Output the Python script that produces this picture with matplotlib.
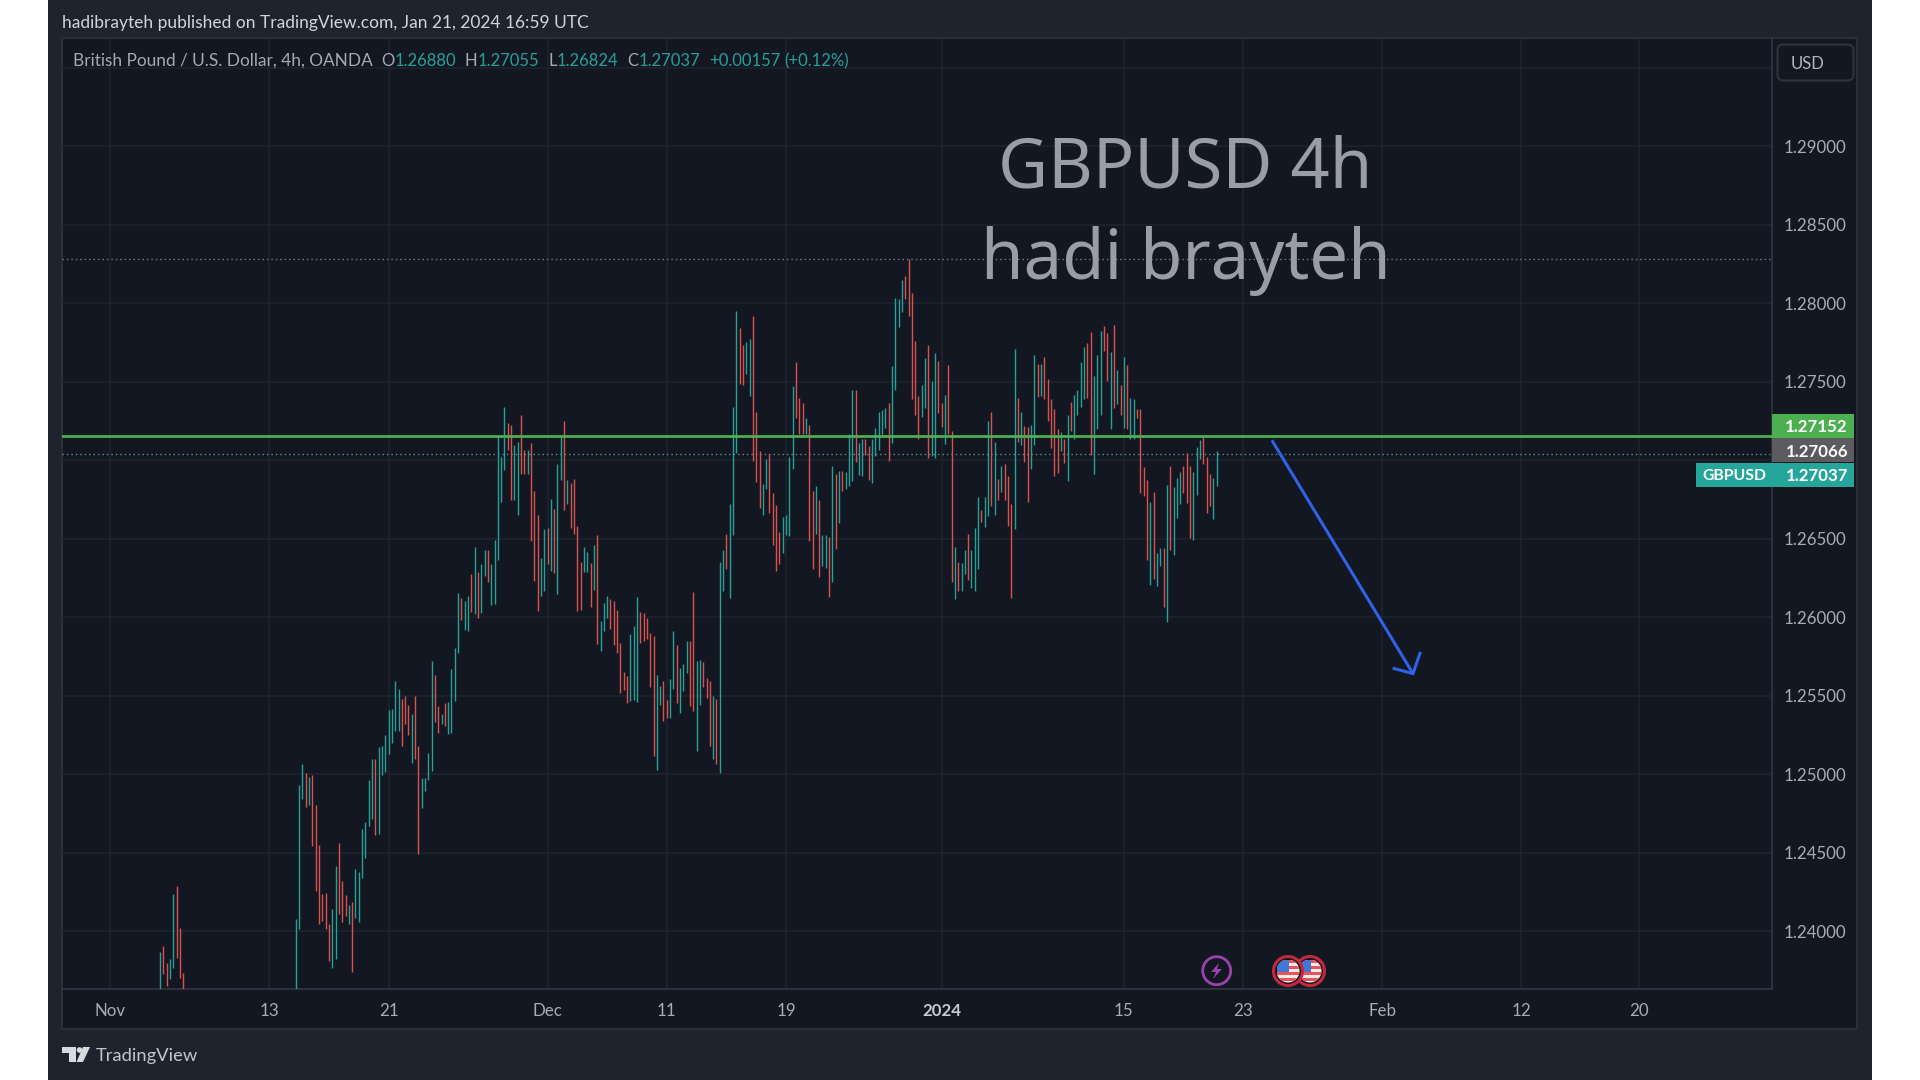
import matplotlib
matplotlib.use("Agg")
import matplotlib.pyplot as plt
from matplotlib.patches import Rectangle, Circle, Polygon, FancyBboxPatch

# ---------------- data ----------------
early_high = [1.23868,1.23904,1.23798,1.23823,1.24233,1.24286,1.24017,1.23730]
early_low  = [1.2350,1.23724,1.23649,1.23692,1.23766,1.23830,1.23702,1.2350]
early_up   = [1,0,0,1,1,0,0,0]

main_high = [
1.24074,1.24929,1.25061,1.25004,1.24980,1.24997,1.24806,1.24545,1.24239,1.24244,
1.24042,1.24138,1.24414,1.24562,1.24318,1.24229,1.24163,1.24186,1.24397,1.24378,
1.24651,1.24694,1.24961,1.25099,1.25099,1.25174,1.25178,1.25248,1.25407,1.25416,
1.25592,1.25539,1.25479,1.25496,1.25443,1.25380,1.25496,1.25178,1.24972,1.24972,
1.25131,1.25723,1.25634,1.25433,1.25380,1.25454,1.25460,1.25666,1.25800,1.26156,
1.26124,1.26105,1.26131,1.26275,1.26449,1.26288,
1.26341,1.26426,1.26426,1.26339,1.26490,1.27152,1.27021,1.27339,1.27233,1.27226,
1.27095,1.27116,1.27284,1.27061,1.27061,1.27110,1.26802,1.26647,1.26377,1.26558,
1.26568,1.26749,1.26685,1.26972,1.27152,1.27248,1.26872,1.26855,1.26880,1.26579,
1.26350,1.26447,1.26413,1.26345,1.26456,1.26520,1.25974,1.26091,1.26137,1.26112,
1.26105,1.26048,1.25836,1.25649,1.25624,1.25893,1.25942,1.26129,1.26033,1.26027,
1.25995,1.25900,1.25878,1.25634,1.25560,1.25592,1.25471,1.25607,1.25908,1.25821,
1.25677,1.25702,1.25847,1.25847,1.26161,1.25723,1.25726,1.25713,1.25609,1.25592,
1.25496,1.25479,1.26350,1.26426,1.26526,1.26717,1.27339,1.27948,1.27842,1.27732,
1.27751,1.27772,1.27916,1.27307,1.27057,1.26849,1.27004,1.27040,1.26791,1.26711,
1.26543,1.26636,1.26653,1.27021,1.27471,1.27623,1.27396,1.27364,1.27265,1.27226,
1.26802,1.26834,1.26745,1.26522,1.26520,1.26511,1.26961,1.26914,1.26929,1.26929,
1.26925,1.27163,1.27443,1.27443,1.27110,1.27131,1.27131,1.27088,1.27131,1.27205,
1.27307,1.27316,1.27333,1.27364,1.27602,1.28033,1.28023,1.28146,1.28171,1.28281,
1.28065,1.27757,1.27407,1.27477,1.27647,1.27732,1.27502,1.27679,1.27630,1.27364,
1.27417,1.27604,1.27188,1.26447,1.26350,1.26345,1.26424,1.26530,1.26430,1.26568,
1.26766,1.26681,1.26766,1.27248,1.27305,1.27116,1.26880,1.26965,1.26972,1.26897,
1.26717,1.27710,1.27392,1.27305,1.27216,1.27209,1.27222,1.27672,1.27609,1.27613,
1.27657,1.27517,1.27386,1.27322,1.27199,1.27180,1.27131,1.27290,1.27369,1.27417,
1.27445,1.27623,1.27721,1.27747,1.27817,1.27538,1.27672,1.27821,1.27853,1.27806,
1.27689,1.27857,1.27572,1.27475,1.27657,1.27604,1.27392,1.27386,1.27322,1.27328,
1.26957,1.26876,1.26734,1.26798,1.26409,1.26441,1.26441,1.26838,1.26961,1.26829,
1.26887,1.26923,1.26961,1.27042,1.26961,1.26923,1.27084,1.27127,1.27148,1.27020,
1.26914,1.26887,1.27057]

main_low = [
1.2350,1.24010,1.24838,1.24792,1.24806,1.24541,1.24254,1.24042,1.24063,1.24010,
1.23809,1.23766,1.23823,1.24106,1.24057,1.24095,1.24042,1.23738,1.24085,1.24059,
1.24339,1.24467,1.24668,1.24711,1.24615,1.24620,1.24991,1.25012,1.25125,1.25199,
1.25273,1.25273,1.25178,1.25316,1.25246,1.25072,1.25093,1.24492,1.24785,1.24891,
1.24961,1.25019,1.25331,1.25259,1.25316,1.25305,1.25252,1.25263,1.25465,1.25768,
1.25984,1.25920,1.25908,1.26035,1.26022,1.25997,
1.26027,1.26261,1.26222,1.26076,1.26080,1.26362,1.26732,1.26936,1.27067,1.26745,
1.26745,1.26649,1.26908,1.26908,1.26914,1.26483,1.26229,1.26038,1.26133,1.26165,
1.26335,1.26292,1.26278,1.26148,1.26876,1.26681,1.26717,1.26568,1.26532,1.26038,
1.26048,1.26286,1.26286,1.26065,1.26171,1.25830,1.25783,1.25910,1.25995,1.25921,
1.25821,1.25772,1.25517,1.25534,1.25450,1.25464,1.25471,1.25460,1.25836,1.25847,
1.25857,1.25556,1.25118,1.25029,1.25439,1.25341,1.25358,1.25358,1.25539,1.25454,
1.25390,1.25528,1.25645,1.25433,1.25401,1.25146,1.25437,1.25556,1.25486,1.25178,
1.25093,1.25061,1.25004,1.26165,1.26303,1.26123,1.26520,1.27042,1.27485,1.27481,
1.27551,1.27407,1.26993,1.26859,1.26696,1.26647,1.26817,1.26664,1.26462,1.26292,
1.26339,1.26409,1.26520,1.26515,1.26940,1.27269,1.27163,1.27169,1.27169,1.26483,
1.26303,1.26532,1.26254,1.26324,1.26314,1.26129,1.26222,1.26435,1.26596,1.26802,
1.26817,1.26834,1.26866,1.26987,1.26902,1.26897,1.27031,1.26876,1.26851,1.27025,
1.27063,1.27163,1.27205,1.26993,1.27110,1.27445,1.27846,1.27942,1.28027,1.27916,
1.27386,1.27290,1.27137,1.27275,1.27333,1.27010,1.27025,1.27010,1.27301,1.27209,
1.27103,1.27169,1.26222,1.26116,1.26165,1.26165,1.26271,1.26239,1.26186,1.26165,
1.26309,1.26604,1.26575,1.26643,1.26706,1.26653,1.26745,1.26795,1.26745,1.26579,
1.26122,1.26558,1.27114,1.27095,1.26989,1.26734,1.26940,1.27095,1.27403,1.27407,
1.27390,1.27248,1.27078,1.26897,1.26919,1.27057,1.26982,1.26866,1.27184,1.27135,
1.27284,1.27339,1.27386,1.27396,1.27031,1.26908,1.27199,1.27290,1.27693,1.27502,
1.27199,1.27333,1.27354,1.27290,1.27205,1.27195,1.27135,1.27135,1.27269,1.26787,
1.26774,1.26362,1.26207,1.26243,1.26197,1.26324,1.26065,1.25970,1.26430,1.26392,
1.26632,1.26717,1.26787,1.26728,1.26505,1.26490,1.26776,1.27004,1.26972,1.26664,
1.26706,1.26626,1.26834]

main_up = [
1,1,1,0,1,0,0,0,0,0, 0,1,1,0,0,0,1,0,1,1, 1,1,1,1,0,1,1,1,1,1, 1,1,0,0,0,1,0,0,1,1,
1,1,0,0,1,0,1,1,1,1, 0,1,1,0,1,0,
1,1,0,1,1,1,1,1,0,0, 1,1,0,0,1,0,0,0,1,1, 0,1,0,1,1,0,1,0,0,0, 0,1,1,0,1,0,1,1,1,0,
0,0,0,0,0,1,1,1,0,0, 0,0,0,1,1,0,0,1,1,0, 1,1,1,0,0,1,1,0,0,0, 1,0,1,1,0,1,1,1,0,0,
1,1,0,0,0,1,1,0,0,0, 0,1,1,1,1,0,0,0,1,0, 0,1,0,1,1,0,1,0,1,0, 1,1,1,0,1,1,0,0,1,1,
1,1,1,0,1,1,1,1,0,0, 0,0,0,1,1,0,1,1,0,0, 1,0,0,1,0,1,1,0,1,1, 1,0,1,1,0,1,0,1,0,0,
0,1,0,1,0,0,1,1,0,1, 0,0,0,0,0,1,0,1,0,1, 1,1,1,0,0,1,1,1,0,0, 1,0,1,0,1,0,1,1,0,0,
0,0,1,0,1,1,0,1,0,1, 1,1,0,0,0,1,1,1,0,0, 0,1,1]

early_start = 0
main_start = 41

price_ticks = [1.24,1.245,1.25,1.255,1.26,1.265,1.27,1.275,1.28,1.285,1.29,1.295]
price_labels = ["1.24000","1.24500","1.25000","1.25500","1.26000","1.26500","",
                "1.27500","1.28000","1.28500","1.29000",""]
time_ticks = [-15,33,69,117,153,189,236,291,327,369,411,446.5]
time_labels = ["Nov","13","21","Dec","11","19","2024","15","23","Feb","12","20"]

level_green = 1.27152
level_last = 1.27037
level_high = 1.28282
arrow_x = [335.7,378.3]
arrow_y = [1.27126,1.2564]
wing_x = [372.6,378.3,380.4]
wing_y = [1.25672,1.2564,1.25768]

# ---------------- figure ----------------
W, H = 1920, 1080
BG = "#131722"; PANEL = "#1f232e"; EDGE = "#2a2e39"; GRID = "#20242f"
TEAL = "#26a196"; RED = "#d9524f"; TXT = "#a9acb5"
plt.rcParams["font.family"] = ["Lato", "DejaVu Sans"]

fig = plt.figure(figsize=(19.2, 10.8), dpi=100, facecolor="white")

# chrome layer in pixel units
bgax = fig.add_axes([0, 0, 1, 1], zorder=0)
bgax.set_xlim(0, W); bgax.set_ylim(H, 0); bgax.axis("off")
bgax.add_patch(Rectangle((48, 0), 1823.5, 1080, fc=PANEL, ec="none"))
bgax.add_patch(Rectangle((62, 38), 1795, 991, fc=BG, ec=EDGE, lw=1.5))

ax = fig.add_axes([62/W, 1-989/H, (1772-62)/W, (989-38)/H], zorder=1)
ax.set_facecolor("none")
ax.set_xlim(-29.6, 486.7)
ax.set_ylim(1.23631, 1.29688)
for s in ("top", "left"):
    ax.spines[s].set_visible(False)
for s in ("right", "bottom"):
    ax.spines[s].set_color("#343844"); ax.spines[s].set_linewidth(1.1)
ax.yaxis.tick_right()
ax.set_yticks(price_ticks); ax.set_yticklabels(price_labels)
ax.set_xticks(time_ticks); ax.set_xticklabels(time_labels)
ax.tick_params(axis="y", length=0, pad=8.5, labelsize=12.2, labelcolor=TXT)
ax.tick_params(axis="x", length=0, pad=10, labelsize=12.2, labelcolor=TXT)
for lab in ax.get_xticklabels():
    if lab.get_text() == "2024":
        lab.set_fontweight("bold"); lab.set_color("#c8cad1")
ax.grid(True, color=GRID, lw=1.1, zorder=0)
ax.set_axisbelow(True)

# bars
xs = [early_start + i for i in range(len(early_high))] + [main_start + i for i in range(len(main_high))]
hs = early_high + main_high
ls = early_low + main_low
ups = early_up + main_up
ax.vlines(xs, ls, hs, colors=[TEAL if u else RED for u in ups], lw=1.0, zorder=3)

# levels
ax.axhline(level_high, color="#787b85", lw=1.0, ls=(0, (1, 2.2)), zorder=2)
ax.axhline(level_last, color="#5f8f8e", lw=1.0, ls=(0, (1, 2.2)), zorder=2)
ax.axhline(level_green, color="#4caf50", lw=2.0, zorder=4)

# arrow
ax.plot(arrow_x, arrow_y, color="#2f62e6", lw=2.2, solid_capstyle="butt", zorder=5)
ax.plot(wing_x, wing_y, color="#2f62e6", lw=2.2, solid_joinstyle="miter", zorder=5)

# overlay in pixel units
top = fig.add_axes([0, 0, 1, 1], zorder=2)
top.set_xlim(0, W); top.set_ylim(H, 0); top.axis("off"); top.patch.set_alpha(0)

# title
TITLE = "#9b9da6"
top.text(1185, 187, "GBPUSD 4h", fontsize=49.5, color=TITLE, ha="center", va="baseline", family=["Noto Sans"])
top.text(1186, 279, "hadi brayteh", fontsize=49.5, color=TITLE, ha="center", va="baseline", family=["Noto Sans"])

# header
top.text(62, 23, "hadibrayteh published on TradingView.com, Jan 21, 2024 16:59 UTC",
         fontsize=12.55, color="#d1d4dc", ha="left", va="center")
legend_parts = [
    (73, "British Pound / U.S. Dollar, 4h, OANDA", "#a6a9b2"), (381, "O", "#a6a9b2"), (395, "1.26880", TEAL),
    (464, "H", "#a6a9b2"), (478, "1.27055", TEAL), (548, "L", "#a6a9b2"), (557, "1.26824", TEAL),
    (627, "C", "#a6a9b2"), (639, "1.27037", TEAL), (709, "+0.00157", TEAL), (784, "(+0.12%)", TEAL),
]
for x, s, c in legend_parts:
    top.text(x, 61, s, fontsize=12.4 if len(s) > 20 else 12, color=c, ha="left", va="center")

# currency button
top.add_patch(FancyBboxPatch((1777.5, 44.5), 76, 36, boxstyle="round,pad=0,rounding_size=6",
                             fc=BG, ec="#2f333e", lw=1.5))
top.text(1791, 64, "USD", fontsize=12, color="#b2b5be", ha="left", va="center")

# price tags
top.add_patch(Rectangle((1772, 414), 82, 24, fc="#4caf50", ec="none"))
top.add_patch(Rectangle((1772, 438), 82, 24, fc="#5b5b60", ec="none"))
top.add_patch(Rectangle((1696, 463), 158, 24, fc="#26a69a", ec="none"))
top.text(1848, 427, "1.27152", fontsize=12.2, color="white", ha="right", va="center", fontweight="bold")
top.text(1848, 452, "1.27066", fontsize=12.2, color="white", ha="right", va="center", fontweight="bold")
top.text(1848, 476, "1.27037", fontsize=12.2, color="white", ha="right", va="center", fontweight="bold")
top.text(1702, 476, "GBPUSD", fontsize=11.3, color="white", ha="left", va="center", fontweight="bold")

# event markers
top.add_patch(Circle((1216.7, 970.7), 14, fc=BG, ec="#9c42ad", lw=2))
top.add_patch(Polygon([(1219, 963), (1211, 972), (1216, 972), (1213, 979), (1222, 969), (1217, 969)],
                      fc="#9c42ad", ec="none"))

def flag(cx, cy):
    top.add_patch(Circle((cx, cy), 14.5, fc="#14171f", ec="#c3283c", lw=2.2))
    clip = Circle((cx, cy), 11.5, transform=top.transData)
    top.add_patch(clip); clip.set_visible(False)
    r = 11.5
    stripes = Rectangle((cx-r, cy-r), 2*r, 2*r, fc="#f0ecec", ec="none")
    top.add_patch(stripes); stripes.set_clip_path(clip)
    for k in range(4):
        s = Rectangle((cx-r, cy-r+k*6.2), 2*r, 3.1, fc="#e8545a", ec="none")
        top.add_patch(s); s.set_clip_path(clip)
    c = Rectangle((cx-r, cy-r), r+1, r+1, fc="#3f78d8", ec="none")
    top.add_patch(c); c.set_clip_path(clip)

flag(1310, 971)
flag(1288, 971)

# TradingView mark
top.add_patch(Polygon([(62, 1047), (76, 1047), (76, 1062), (69, 1062), (69, 1053), (62, 1053)], fc="#d8dae0", ec="none"))
top.add_patch(Circle((79.5, 1050), 2.8, fc="#d8dae0", ec="none"))
top.add_patch(Polygon([(83, 1047), (90, 1047), (83, 1062), (76.5, 1062)], fc="#d8dae0", ec="none"))
top.text(96, 1056, "TradingView", fontsize=13.2, color="#c4c6cd", ha="left", va="center")

fig.savefig("out.png", dpi=100, facecolor="white")
